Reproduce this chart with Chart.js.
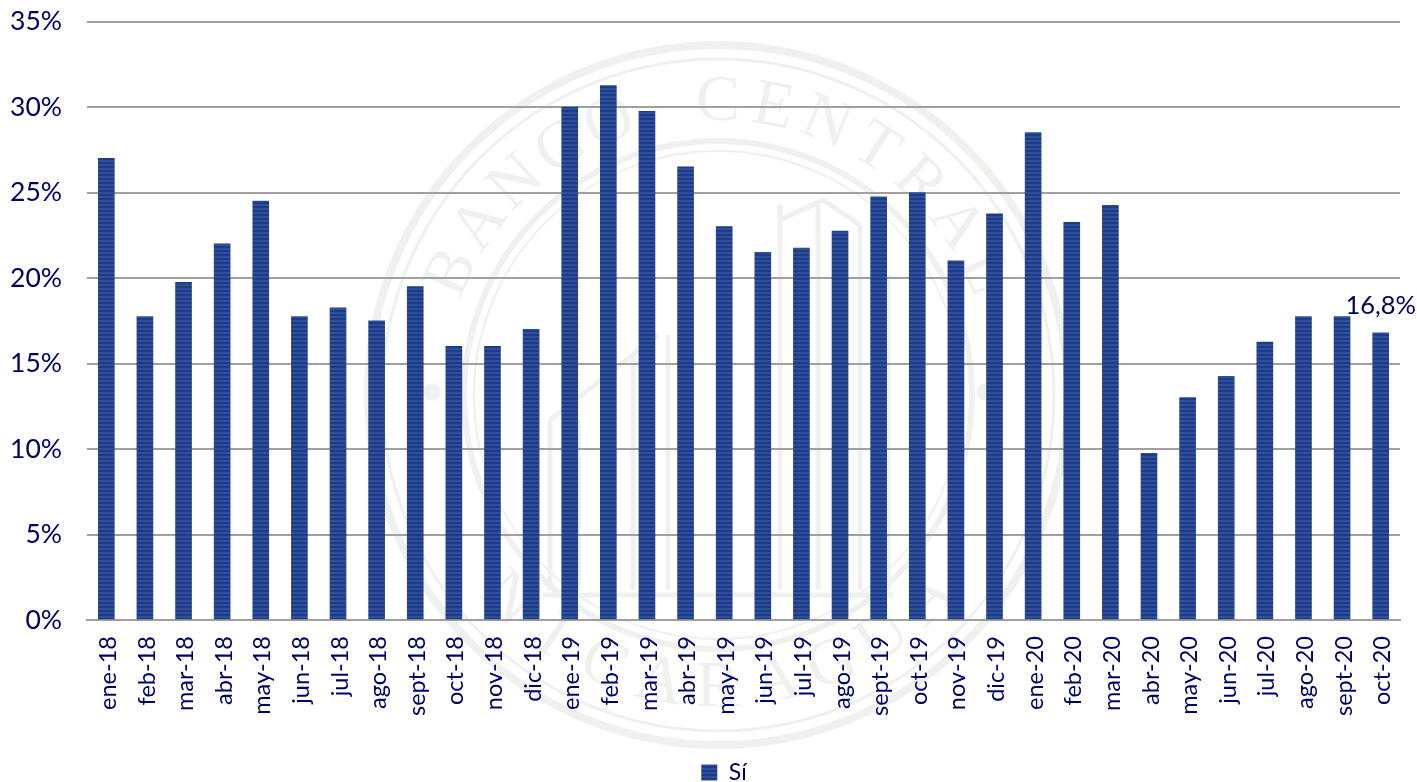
<!DOCTYPE html>
<html><head><meta charset="utf-8">
<style>html,body{margin:0;padding:0;background:#fff}#w{position:relative;width:1417px;height:782px}</style>
<script src="https://cdn.jsdelivr.net/npm/chart.js@4"></script>
</head><body><div id="w"><canvas id="c" width="1417" height="782"></canvas></div>
<script>
const categories = ["ene-18","feb-18","mar-18","abr-18","may-18","jun-18","jul-18","ago-18","sept-18","oct-18","nov-18","dic-18","ene-19","feb-19","mar-19","abr-19","may-19","jun-19","jul-19","ago-19","sept-19","oct-19","nov-19","dic-19","ene-20","feb-20","mar-20","abr-20","may-20","jun-20","jul-20","ago-20","sept-20","oct-20"];
const valuesSi = [27,17.75,19.75,22,24.5,17.75,18.25,17.5,19.5,16,16,17,30,31.25,29.75,26.5,23,21.5,21.75,22.75,24.75,25,21,23.75,28.5,23.25,24.25,9.75,13,14.25,16.25,17.75,17.75,16.8];
const seriesName = "Sí";
const lastLabel = "16,8%";
const TEXT = "#00006b", FONT = "Lato, 'Open Sans', sans-serif";

function stripes(){
  const p=document.createElement('canvas');p.width=4;p.height=4;
  const g=p.getContext('2d');
  g.fillStyle='#2d5096';g.fillRect(0,0,4,4);
  g.fillStyle='#1e3a8a';g.fillRect(0,2,4,2);
  return g.createPattern(p,'repeat');
}
function arcText(ctx,str,cx,cy,r,mid,step,bottom){
  const chars=[...str];
  chars.forEach((ch,i)=>{
    const off=(i-(chars.length-1)/2)*step;
    const a=bottom?mid-off:mid+off;
    ctx.save();ctx.translate(cx+r*Math.cos(a),cy+r*Math.sin(a));
    ctx.rotate(bottom?a-Math.PI/2:a+Math.PI/2);
    ctx.fillText(ch,0,0);ctx.restore();
  });
}
const watermark={id:'watermark',beforeDraw(ch){
  const c=ch.ctx,cx=718,cy=395;
  c.save();c.strokeStyle='#eef1ee';c.fillStyle='#eef1ee';
  [[350,8],[336,3],[254,6],[244,2]].forEach(([r,w])=>{c.lineWidth=w;c.beginPath();c.arc(cx,cy,r,0,Math.PI*2);c.stroke();});
  c.font="66px 'Liberation Serif', serif";c.textAlign='center';c.textBaseline='middle';
  arcText(c,"BANCO CENTRAL",cx,cy,292,-Math.PI/2,0.19,false);
  arcText(c,"NICARAGUA",cx,cy,294,Math.PI/2,0.2,true);
  [-286,268].forEach(d=>{c.beginPath();c.arc(cx+d,cy-3,9,0,Math.PI*2);c.fill();});
  c.lineWidth=5;
  [[-168,25],[-140,25],[-85,-40],[-50,-60],[62,-190],[100,-190],[142,-170],[170,-120]].forEach(([a,b])=>{c.beginPath();c.moveTo(cx+a,cy+b);c.lineTo(cx+a,cy+195);c.stroke();});
  c.beginPath();c.moveTo(cx+62,cy-175);c.lineTo(cx+105,cy-195);c.lineTo(cx+142,cy-170);c.stroke();
  c.beginPath();c.moveTo(cx-168,cy+25);c.lineTo(cx-60,cy-60);c.stroke();
  c.beginPath();c.moveTo(cx-175,cy+200);c.lineTo(cx+175,cy+200);c.stroke();
  c.restore();
}};
const lastValueLabel={id:'lastValueLabel',afterDatasetsDraw(ch){
  const m=ch.getDatasetMeta(0).data[valuesSi.length-1];
  const c=ch.ctx;c.save();c.fillStyle=TEXT;c.font="25.5px "+FONT;c.textAlign='center';c.textBaseline='middle';
  c.fillText(lastLabel,m.x,m.y-27);c.restore();
}};
const legendShift={id:'legendShift',afterLayout(ch){
  const l=ch.legend;l.left+=24;l.right+=24;l.top+=12;l.bottom+=12;
}};
new Chart(document.getElementById('c'),{
  type:'bar',
  data:{labels:categories,datasets:[{label:seriesName,data:valuesSi,backgroundColor:stripes(),borderWidth:0,barThickness:16}]},
  options:{
    responsive:false,animation:false,
    layout:{padding:{top:21.5,right:17,left:0,bottom:0}},
    plugins:{tooltip:{enabled:false},
      legend:{position:'bottom',labels:{color:TEXT,font:{family:FONT,size:23},boxWidth:16,boxHeight:16,padding:2}}},
    scales:{
      x:{afterFit(s){s.height=127;s.paddingTop=0;s.paddingBottom=0;s.paddingLeft=0;s.paddingRight=0;},grid:{display:false},border:{color:'#a0a0a0',width:2},
        ticks:{color:TEXT,font:{family:FONT,size:23.5},maxRotation:90,minRotation:90,autoSkip:false,padding:8,labelOffset:2}},
      y:{min:0,max:35,afterFit(s){s.width=87;s.paddingTop=0;s.paddingBottom=0;},
        grid:{color:'#a0a0a0',lineWidth:2,drawTicks:false},border:{display:false},
        ticks:{stepSize:5,color:TEXT,font:{family:FONT,size:26.5},padding:25,callback:v=>v+'%'}}
    }
  },
  plugins:[watermark,lastValueLabel,legendShift]
});
</script></body></html>
